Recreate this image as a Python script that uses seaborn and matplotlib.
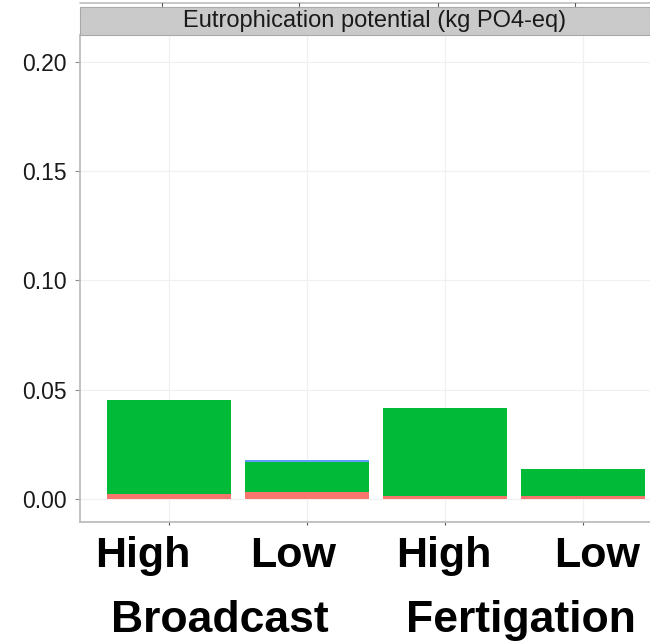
import numpy as np
import pandas as pd
import matplotlib
matplotlib.use("Agg")
import matplotlib.pyplot as plt
from matplotlib.patches import Rectangle
from matplotlib.lines import Line2D
from matplotlib.transforms import ScaledTranslation
import seaborn as sns

# Eutrophication potential per treatment, split by contribution source
methods = ["Broadcast", "Broadcast", "Fertigation", "Fertigation"]
rates = ["High", "Low", "High", "Low"]
source_red = [0.0023, 0.0032, 0.0012, 0.0012]
source_green = [0.0430, 0.0139, 0.0403, 0.0127]
source_blue = [0.0000, 0.0009, 0.0001, 0.0000]
y_ticks = [0.00, 0.05, 0.10, 0.15, 0.20]
strip_title = "Eutrophication potential (kg PO4-eq)"
group_labels = ["Broadcast", "Fertigation"]

COL_RED = "#F8766D"
COL_GREEN = "#00BA38"
COL_BLUE = "#619CFF"

sns.set_theme(style="white")
plt.rcParams["font.family"] = ["Liberation Sans", "DejaVu Sans"]

df = pd.DataFrame({
    "method": methods,
    "rate": rates,
    "red": source_red,
    "green": source_green,
    "blue": source_blue,
})
df["key"] = df["method"] + " " + df["rate"]
df["cum_red"] = df["red"]
df["cum_green"] = df["red"] + df["green"]
df["cum_blue"] = df["cum_green"] + df["blue"]
order = list(df["key"])

W, H = 650, 642
fig = plt.figure(figsize=(W / 100, H / 100), dpi=100)

# panel geometry in pixels
px_left, px_right = 80, 650
px_top, px_bottom = 35, 521.7
ax = fig.add_axes([px_left / W, 1 - px_bottom / H,
                   (px_right - px_left) / W, (px_bottom - px_top) / H])
ax.set_facecolor("white")

# light grid behind the bars
for yv in y_ticks:
    ax.axhline(yv, color="#F0F0F0", lw=0.9, zorder=0)
for xv in range(len(order)):
    ax.axvline(xv, color="#F0F0F0", lw=0.9, zorder=0)

# stacked bars drawn as overlapping cumulative totals
for col, color in [("cum_blue", COL_BLUE), ("cum_green", COL_GREEN), ("cum_red", COL_RED)]:
    sns.barplot(data=df, x="key", y=col, order=order, color=color,
                saturation=1, width=0.9, errorbar=None, ax=ax, zorder=2,
                linewidth=0)

ax.set_xlim(-0.645, 3.486)
ax.set_ylim(-0.0104, 0.2123)
ax.set_xlabel("")
ax.set_ylabel("")
ax.set_yticks(y_ticks)
ax.set_yticklabels([f"{v:.2f}" for v in y_ticks], fontsize=16.5, color="#1A1A1A")
ax.set_xticks(range(len(order)))
ax.set_xticklabels(rates, fontsize=31, fontweight="bold", color="black")
ax.tick_params(axis="y", length=3.6, width=0.8, color="#8C8C8C", pad=6, left=True)
ax.tick_params(axis="x", length=2.5, width=0.8, color="#555555", pad=7.5, bottom=True)

# the rate labels sit on a slightly wider spacing than the ticks
for lab, dx in zip(ax.get_xticklabels(), [-26, -14, -1, 14]):
    lab.set_transform(lab.get_transform() + ScaledTranslation(dx / 100, 0, fig.dpi_scale_trans))

for side in ["top", "right"]:
    ax.spines[side].set_visible(False)
for side in ["left", "bottom"]:
    ax.spines[side].set_color("#BDBDBD")
    ax.spines[side].set_linewidth(1.3)

# facet strip
strip_top, strip_bot = 7, 35
fig.patches.append(Rectangle((px_left / W, 1 - strip_bot / H),
                             (px_right - px_left) / W, (strip_bot - strip_top) / H,
                             transform=fig.transFigure, facecolor="#CACACA",
                             edgecolor="#A8A8A8", linewidth=0.8, zorder=1))
fig.text(374.5 / W, 1 - 21.5 / H, strip_title, ha="center", va="center",
         fontsize=17, color="#1A1A1A")

# edge of the panel row above
fig.lines.append(Line2D([px_left / W, 1], [1 - 2.5 / H, 1 - 2.5 / H],
                        transform=fig.transFigure, color="#BDBDBD", lw=1.2))
for tx in [161.7, 299, 437.7, 575]:
    fig.lines.append(Line2D([tx / W, tx / W], [1 - 2.5 / H, 1 - 5.5 / H],
                            transform=fig.transFigure, color="#555555", lw=0.8))

# method group labels beneath the rate labels
for lbl, cx in zip(group_labels, [220.3, 520.8]):
    fig.text(cx / W, 1 - 631.7 / H, lbl, ha="center", va="baseline",
             fontsize=32, fontweight="bold", color="black")

fig.savefig("out.png", dpi=100, facecolor="white")
